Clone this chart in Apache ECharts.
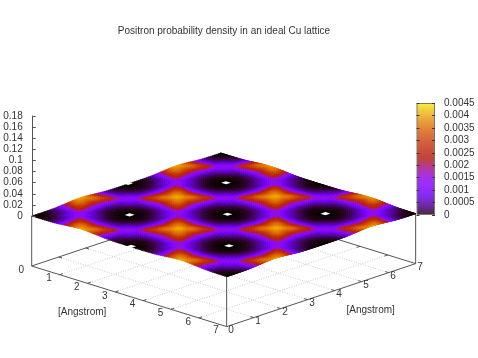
<!DOCTYPE html>
<html><head><meta charset="utf-8">
<style>html,body{margin:0;padding:0;background:#fff}#c{width:478px;height:358px}</style>
<script src="https://cdn.jsdelivr.net/npm/echarts@6/dist/echarts.min.js"></script>
</head><body><div id="c"></div>
<script>
// density in units of 1e-6, sampled every 0.2975 Angstrom (12 samples per lattice cell)
const densityUnit = 1e-6;
const latticeStep = 0.2975;
const p0 = [0,18,135,630,1900,3200,3950,3200,1900,630,135,18,0,18,135,630,1900,3200,3950,3200,1900,630,135,18,0];
const p1 = [18,54,225,720,2150,3300,3200,3300,2150,720,225,54,18,54,225,720,2150,3300,3200,3300,2150,720,225,54,18];
const p2 = [135,225,540,945,2250,2150,1900,2150,2250,945,540,225,135,225,540,945,2250,2150,1900,2150,2250,945,540,225,135];
const p3 = [630,720,945,1485,945,720,630,720,945,1485,945,720,630,720,945,1485,945,720,630,720,945,1485,945,720,630];
const p4 = [1900,2150,2250,945,540,225,135,225,540,945,2250,2150,1900,2150,2250,945,540,225,135,225,540,945,2250,2150,1900];
const p5 = [3200,3300,2150,720,225,54,18,54,225,720,2150,3300,3200,3300,2150,720,225,54,18,54,225,720,2150,3300,3200];
const p6 = [3950,3200,1900,630,135,18,0,18,135,630,1900,3200,3950,3200,1900,630,135,18,0,18,135,630,1900,3200,3950];
const densityRows = [p0,p1,p2,p3,p4,p5,p6,p5,p4,p3,p2,p1,p0,p1,p2,p3,p4,p5,p6,p5,p4,p3,p2,p1,p0];
// undefined samples at the atom sites (white spots)
const atomSites = [[1.785,1.785],[3.57,3.57],[5.355,5.355],[1.785,5.355],[5.355,1.785],[0,3.57],[3.57,0]];
const planeTicks = [0,1,2,3,4,5,6,7];
const planeMax = 7;
const planeName = '[Angstrom]';
const titleText = 'Positron probability density in an ideal Cu lattice';
const cbMax = 0.0045, cbStep = 0.0005;
const zMax = 0.18, zStep = 0.02, zBase = -0.0894;

const TXT = '#333', AX = '#555', FONT = '"Liberation Sans", Arial, sans-serif';
function project(x, y, z) {
  return [31.7 + 27.85*x + 27.0*y, 266 + 8.66*x - 9.0*y - 559*(z - zBase)];
}
function paletteRGB(t) {
  t = Math.max(0, Math.min(1, t));
  return [Math.sqrt(t)*255, t*t*t*255, Math.max(0, Math.sin(2*Math.PI*t))*255];
}
function palette(t) {
  const c = paletteRGB(t);
  return 'rgb(' + Math.round(c[0]) + ',' + Math.round(c[1]) + ',' + Math.round(c[2]) + ')';
}
// the colour box of the reference is slightly washed out
function barPalette(t) {
  const c = paletteRGB(t);
  return 'rgb(' + Math.round(c[0]*0.78+50) + ',' + Math.round(c[1]*0.78+42) + ',' + Math.round(c[2]*0.78+60) + ')';
}
// smooth shading between the samples (pm3d interpolate style)
function cr(a, b, c, d, s) {
  return b + 0.5*s*(c-a + s*(2*a-5*b+4*c-d + s*(3*(b-c)+d-a)));
}
function sample(u, v) {
  const n = densityRows.length - 1;
  const i = Math.min(n-1, Math.floor(u)), j = Math.min(n-1, Math.floor(v));
  const a = u-i, b = v-j, rows = [];
  for (let k = -1; k <= 2; k++) {
    const r = densityRows[Math.max(0, Math.min(n, i+k))];
    const q = m => r[Math.max(0, Math.min(n, j+m))];
    rows.push(cr(q(-1), q(0), q(1), q(2), b));
  }
  return Math.max(0, cr(rows[0], rows[1], rows[2], rows[3], a)) * densityUnit;
}
// surface cells
const SUB = 4, surfaceCells = [];
const nCells = densityRows.length - 1;
for (let i = 0; i < nCells*SUB; i++) for (let j = 0; j < nCells*SUB; j++) {
  surfaceCells.push([i/SUB, j/SUB, (i+1)/SUB, (j+1)/SUB]);
}
function corner(u, v) {
  return project(Math.min(planeMax, u*latticeStep), Math.min(planeMax, v*latticeStep), sample(u, v));
}
// frame lines [x1,y1,z1,x2,y2,z2]
const frameLines = [], gridLines = [], TL = 0.12;
planeTicks.forEach(t => {
  if (t > 0 && t < planeMax) {
    gridLines.push([t,0,zBase,t,planeMax,zBase]);
    gridLines.push([0,t,zBase,planeMax,t,zBase]);
    frameLines.push([t,0,zBase,t,TL,zBase],[t,planeMax,zBase,t,planeMax-TL,zBase]);
    frameLines.push([0,t,zBase,TL,t,zBase],[planeMax,t,zBase,planeMax-TL,t,zBase]);
  }
});
frameLines.push([0,0,zBase,planeMax,0,zBase],[planeMax,0,zBase,planeMax,planeMax,zBase],
  [planeMax,planeMax,zBase,0,planeMax,zBase],[0,planeMax,zBase,0,0,zBase],
  [0,0,zBase,0,0,0],[planeMax,0,zBase,planeMax,0,0],[planeMax,planeMax,zBase,planeMax,planeMax,0]);

function lineRender(style) {
  return function (params, api) {
    const a = api.coord(project(api.value(0), api.value(1), api.value(2)));
    const b = api.coord(project(api.value(3), api.value(4), api.value(5)));
    return {type:'line', shape:{x1:a[0],y1:a[1],x2:b[0],y2:b[1]}, style:style, silent:true};
  };
}
const mainAxes = {xAxisIndex:0, yAxisIndex:0, coordinateSystem:'cartesian2d', clip:false, silent:true, animation:false, progressive:0};
const xLabels = planeTicks.map(t => { const p = project(t,0,zBase); return [p[0]-10.5, p[1]+4, String(t)]; });
const yLabels = planeTicks.map(t => { const p = project(planeMax,t,zBase); return [p[0]+4.5, p[1]+3.5, String(t)]; });

const stops = [];
for (let k = 0; k <= 64; k++) stops.push({offset:k/64, color:barPalette(k/64)});

const option = {
  backgroundColor:'#fff', animation:false,
  title:{text:titleText, left:219, top:21, textAlign:'center',
    textStyle:{fontFamily:FONT, fontSize:10, fontWeight:'normal', color:TXT}},
  grid:[
    {left:0, top:0, width:478, height:358},
    {left:416.5, top:103, width:18.5, height:112},
    {left:31.7, top:116, width:1, height:100}
  ],
  xAxis:[
    {gridIndex:0, type:'value', min:0, max:478, show:false},
    {gridIndex:1, type:'category', data:['density'], show:false},
    {gridIndex:2, type:'value', min:0, max:1, show:false}
  ],
  yAxis:[
    {gridIndex:0, type:'value', min:0, max:358, inverse:true, show:false},
    {gridIndex:1, type:'value', min:0, max:cbMax, interval:cbStep, position:'right', z:5,
      axisLine:{show:false}, splitLine:{show:false},
      axisTick:{show:true, inside:true, length:3, lineStyle:{color:'#4a3040', width:1}},
      axisLabel:{show:true, margin:9, fontFamily:FONT, fontSize:10, color:TXT}},
    {gridIndex:1, type:'value', min:0, max:cbMax, interval:cbStep, position:'left', z:5,
      axisLine:{show:false}, splitLine:{show:false},
      axisTick:{show:true, inside:true, length:3, lineStyle:{color:'#4a3040', width:1}},
      axisLabel:{show:false}},
    {gridIndex:2, type:'value', min:0, max:zMax, interval:zStep, position:'left', z:5,
      axisLine:{show:true, lineStyle:{color:AX, width:1}}, splitLine:{show:false},
      axisTick:{show:true, inside:true, length:3, lineStyle:{color:AX, width:1}},
      axisLabel:{show:true, margin:10, fontFamily:FONT, fontSize:10, color:TXT}}
  ],
  series:[
    Object.assign({type:'custom', name:'grid', z:1, data:gridLines,
      renderItem:lineRender({stroke:'#cfcfcf', lineWidth:1, lineDash:[1,1.5], fill:null})}, mainAxes),
    Object.assign({type:'custom', name:'frame', z:2, data:frameLines,
      renderItem:lineRender({stroke:AX, lineWidth:1, fill:null})}, mainAxes),
    Object.assign({type:'custom', name:'surface', z:3, data:surfaceCells,
      renderItem:function (params, api) {
        const u0=api.value(0), v0=api.value(1), u1=api.value(2), v1=api.value(3);
        const pts=[corner(u0,v0),corner(u1,v0),corner(u1,v1),corner(u0,v1)].map(p=>api.coord(p));
        const col=palette(sample((u0+u1)/2,(v0+v1)/2)/cbMax);
        return {type:'polygon', shape:{points:pts}, style:{fill:col, stroke:col, lineWidth:0.6}, silent:true};
      }}, mainAxes),
    Object.assign({type:'custom', name:'atoms', z:4, data:atomSites,
      renderItem:function (params, api) {
        const x=api.value(0), y=api.value(1), d=0.09;
        const pts=[[x+d,y+d],[x+d,y-d],[x-d,y-d],[x-d,y+d]].map(p=>api.coord(project(p[0],p[1],0.001)));
        return {type:'polygon', shape:{points:pts}, style:{fill:'#fff'}, silent:true};
      }}, mainAxes),
    Object.assign({type:'custom', name:'planeLabels', z:5, data:xLabels.concat(yLabels),
      renderItem:function (params, api) {
        const p=api.coord([api.value(0),api.value(1)]);
        return {type:'text', x:p[0], y:p[1], style:{text:String(api.value(2)), fontFamily:FONT, fontSize:10,
          fill:TXT, align:'center', verticalAlign:'middle'}, silent:true};
      }, dimensions:['x','y',{name:'t',type:'ordinal'}]}, mainAxes),
    {type:'bar', name:'colorbar', xAxisIndex:1, yAxisIndex:1, z:3, barWidth:'100%', silent:true, animation:false,
      data:[cbMax], itemStyle:{borderColor:'#7a7a60', borderWidth:1,
        color:{type:'linear', x:0, y:1, x2:0, y2:0, colorStops:stops}}}
  ],
  graphic:[
    {type:'text', left:58, top:307, style:{text:planeName, fontFamily:FONT, fontSize:10, fill:TXT}},
    {type:'text', left:346.5, top:305, style:{text:planeName, fontFamily:FONT, fontSize:10, fill:TXT}}
  ]
};
echarts.init(document.getElementById('c'), null, {renderer:'canvas'}).setOption(option);
</script></body></html>
